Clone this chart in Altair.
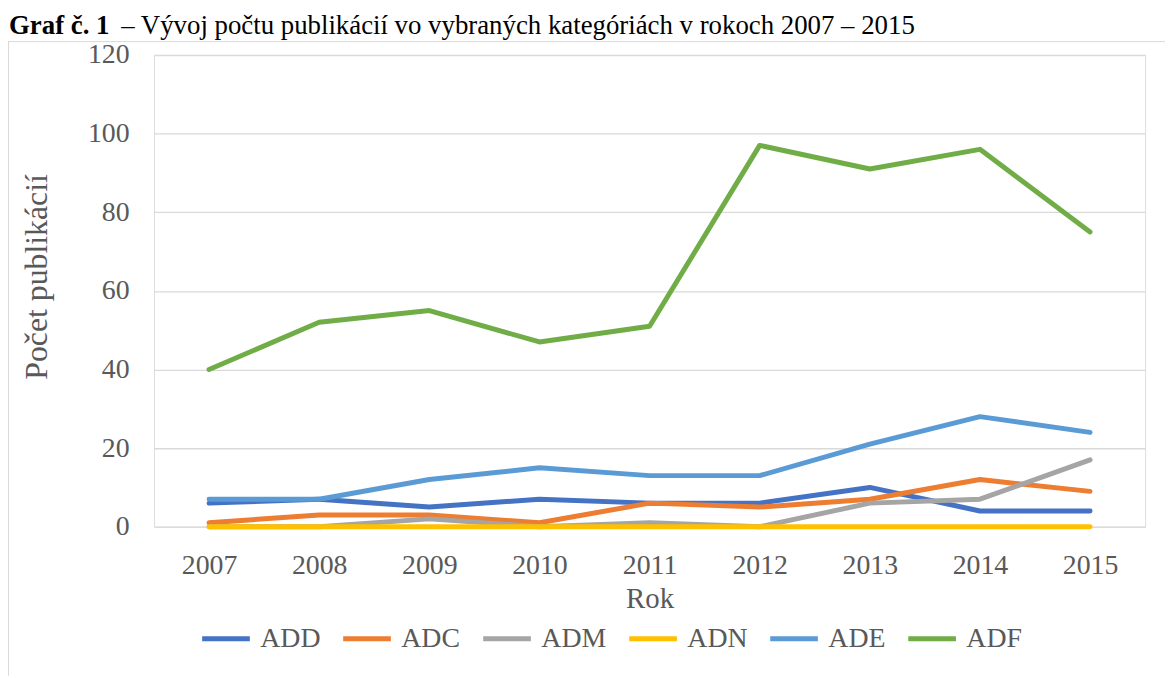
import altair as alt
import pandas as pd

years = ["2007", "2008", "2009", "2010", "2011", "2012", "2013", "2014", "2015"]
series = ["ADD", "ADC", "ADM", "ADN", "ADE", "ADF"]
colors = ["#4472C4", "#ED7D31", "#A5A5A5", "#FFC000", "#5B9BD5", "#70AD47"]

add = [6, 7, 5, 7, 6, 6, 10, 4, 4]
adc = [1, 3, 3, 1, 6, 5, 7, 12, 9]
adm = [0, 0, 2, 0, 1, 0, 6, 7, 17]
adn = [0, 0, 0, 0, 0, 0, 0, 0, 0]
ade = [7, 7, 12, 15, 13, 13, 21, 28, 24]
adf = [40, 52, 55, 47, 51, 97, 91, 96, 75]

y_ticks = [0, 20, 40, 60, 80, 100, 120]

title_bold = "Graf č. 1"
title_rest = "– Vývoj počtu publikácií vo vybraných kategóriách v rokoch 2007 – 2015"
x_title = "Rok"
y_title = "Počet publikácií"

FONT = "Liberation Serif"
GRAY = "#595959"

values = [add, adc, adm, adn, ade, adf]
rows = []
for i, (s, vals) in enumerate(zip(series, values)):
    for y, v in zip(years, vals):
        rows.append({"Rok": y, "series": s, "value": v, "ord": i})
df = pd.DataFrame(rows)

lines = alt.Chart(df).mark_line(
    strokeWidth=5, strokeCap="round", strokeJoin="round"
).encode(
    x=alt.X(
        "Rok:O",
        sort=years,
        scale=alt.Scale(type="point", padding=0.5),
        axis=alt.Axis(
            title=x_title, labelAngle=0, ticks=False, tickSize=0, domain=False,
            grid=False, labelPadding=25, labelFont=FONT, labelFontSize=28,
            labelColor=GRAY, titleFont=FONT, titleFontSize=29, titleColor=GRAY,
            titleFontWeight="normal", titleY=72, titleBaseline="middle",
        ),
    ),
    y=alt.Y(
        "value:Q",
        scale=alt.Scale(domain=[0, 120], nice=False),
        axis=alt.Axis(
            values=y_ticks, title=y_title, ticks=False, tickSize=0, domain=False,
            grid=True, gridColor="#d9d9d9", gridWidth=1.3, labelPadding=25,
            labelFont=FONT, labelFontSize=28, labelColor=GRAY,
            titleFont=FONT, titleFontSize=32, titleColor=GRAY,
            titleFontWeight="normal", titleAngle=-90, titleX=-118, titleY=223,
            titleBaseline="middle", titleAlign="center",
        ),
    ),
    color=alt.Color(
        "series:N",
        sort=series,
        scale=alt.Scale(domain=series, range=colors),
        legend=alt.Legend(
            orient="none", legendX=46, legendY=561, direction="horizontal",
            title=None, symbolType="stroke", symbolSize=2304,
            symbolStrokeWidth=5, labelFont=FONT, labelFontSize=28,
            labelColor=GRAY, labelOffset=8, columnPadding=12, padding=0,
        ),
    ),
    order=alt.Order("ord:Q"),
)

one = pd.DataFrame({"t": [0]})

t_bold = alt.Chart(pd.DataFrame({"t": [title_bold]})).mark_text(
    font=FONT, fontSize=27, fontWeight="bold", align="left", baseline="alphabetic",
    color="#000000",
).encode(text="t:N", x=alt.value(-146), y=alt.value(-21))

t_rest = alt.Chart(pd.DataFrame({"t": [title_rest]})).mark_text(
    font=FONT, fontSize=27, align="left", baseline="alphabetic", color="#000000",
).encode(text="t:N", x=alt.value(-33), y=alt.value(-21))

frame_top = alt.Chart(one).mark_rule(color="#d9d9d9", strokeWidth=1).encode(
    x=alt.value(-147), x2=alt.value(1018), y=alt.value(-13.5)
)
frame_left = alt.Chart(one).mark_rule(color="#d9d9d9", strokeWidth=1).encode(
    x=alt.value(-146.5), y=alt.value(-14), y2=alt.value(625)
)

chart = alt.layer(frame_top, frame_left, lines, t_bold, t_rest).properties(
    width=998,
    height=475,
    autosize=alt.AutoSizeParams(type="none"),
    padding={"left": 147, "top": 45, "right": 20, "bottom": 150},
).configure_view(stroke=None).configure(background="#ffffff")

chart.save("out.html", embed_options={"renderer": "svg", "actions": False})
